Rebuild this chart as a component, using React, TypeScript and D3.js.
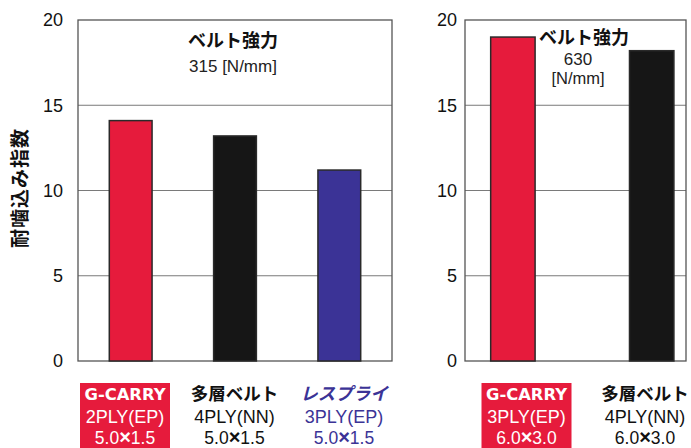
import React from "react";
import * as d3 from "d3";

// ---- data ----
const leftCategories = ["G-CARRY", "多層ベルト", "レスプライ"];
const leftValues = [14.1, 13.2, 11.2];
const leftSpec1 = ["2PLY(EP)", "4PLY(NN)", "3PLY(EP)"];
const leftSpec2 = ["5.0×1.5", "5.0×1.5", "5.0×1.5"];

const rightCategories = ["G-CARRY", "多層ベルト"];
const rightValues = [19.0, 18.2];
const rightSpec1 = ["3PLY(EP)", "4PLY(NN)"];
const rightSpec2 = ["6.0×3.0", "6.0×3.0"];

const yTicks = [0, 5, 10, 15, 20];
const yTitle = "耐噛込み指数";
const leftTitle = ["ベルト強力", "315 [N/mm]"];
const rightTitle = ["ベルト強力", "630", "[N/mm]"];

// ---- style ----
const RED = "#e61b3c";
const BLACK = "#161616";
const BLUE = "#3b3396";
const catColor: Record<string, string> = {
  "G-CARRY": RED,
  "多層ベルト": BLACK,
  "レスプライ": BLUE,
};
const NUM_FONT = "'Liberation Sans', Arial, sans-serif";
const JP_FONT = "'Noto Sans CJK JP', sans-serif";

const y = d3.scaleLinear().domain([0, 20]).range([361, 20]);

function Dim(props: { s: string; x: number; y: number; fill: string }) {
  const parts = props.s.split("×");
  return (
    <text x={props.x} y={props.y} textAnchor="middle" fontFamily={NUM_FONT} fontSize={17.5} fill={props.fill}>
      {parts[0]}
      <tspan fontWeight="bold" fontSize={20}>×</tspan>
      {parts[1]}
    </text>
  );
}

function Panel(props: {
  x0: number;
  x1: number;
  cats: string[];
  vals: number[];
  spec1: string[];
  spec2: string[];
  pi: number;
  po: number;
  align: number;
  labelRange: [number, number];
  tickRight: number;
}) {
  const { x0, x1, cats, vals, spec1, spec2, pi, po, align, labelRange, tickRight } = props;
  const x = d3.scaleBand<string>().domain(cats).range([x0, x1]).paddingInner(pi).paddingOuter(po).align(align);
  const lx = d3.scalePoint<string>().domain(cats).range(labelRange);
  return (
    <g>
      <rect x={x0} y={y(20)} width={x1 - x0} height={y(0) - y(20)} fill="#fff" />
      {yTicks
        .filter((t) => t > 0 && t < 20)
        .map((t) => (
          <line key={t} x1={x0} x2={x1} y1={y(t)} y2={y(t)} stroke="#7a7a7a" strokeWidth={1} />
        ))}
      <rect x={x0} y={y(20)} width={x1 - x0} height={y(0) - y(20)} fill="none" stroke="#555" strokeWidth={1.3} />
      {yTicks.map((t) => (
        <text
          key={t}
          x={tickRight}
          y={y(t)}
          dy="0.36em"
          textAnchor="end"
          fontFamily={NUM_FONT}
          fontSize={18}
          fill="#111"
        >
          {t}
        </text>
      ))}
      {cats.map((c, i) => (
        <rect
          key={c}
          x={x(c)}
          y={y(vals[i])}
          width={x.bandwidth()}
          height={y(0) - y(vals[i])}
          fill={catColor[c]}
          stroke="#2a2a2a"
          strokeWidth={1.5}
        />
      ))}
      {cats.map((c, i) => {
        const cx = lx(c) as number;
        const isG = c === "G-CARRY";
        const col = isG ? "#fff" : catColor[c] === BLUE ? BLUE : "#111";
        return (
          <g key={"l" + c}>
            {isG && <rect x={cx - 45} y={383} width={90} height={70} fill={RED} />}
            {isG ? (
              <text
                x={cx}
                y={400}
                textAnchor="middle"
                fontFamily="'DejaVu Sans', sans-serif"
                fontWeight="bold"
                fontSize={16}
                textLength={81}
                lengthAdjust="spacingAndGlyphs"
                fill="#fff"
              >
                {c}
              </text>
            ) : (
              <text
                x={cx}
                y={400}
                textAnchor="middle"
                fontFamily={JP_FONT}
                fontWeight="bold"
                fontSize={17.5}
                fill={col}
                fontStyle={catColor[c] === BLUE ? "italic" : undefined}
              >
                {c}
              </text>
            )}
            <text x={cx} y={423} textAnchor="middle" fontFamily={NUM_FONT} fontSize={18} fill={col}>
              {spec1[i]}
            </text>
            <Dim s={spec2[i]} x={cx} y={444} fill={col} />
          </g>
        );
      })}
    </g>
  );
}

export default function App() {
  return (
    <svg width={691} height={448} style={{ display: "block", position: "absolute", left: 0, top: 0 }}>
      <rect width={691} height={448} fill="#fff" />
      <Panel
        x0={78}
        x1={392}
        cats={leftCategories}
        vals={leftValues}
        spec1={leftSpec1}
        spec2={leftSpec2}
        pi={0.59}
        po={0.3}
        align={0.5}
        labelRange={[125, 344]}
        tickRight={63}
      />
      <Panel
        x0={465}
        x1={686}
        cats={rightCategories}
        vals={rightValues}
        spec1={rightSpec1}
        spec2={rightSpec2}
        pi={0.68}
        po={0.136}
        align={0.68}
        labelRange={[526.5, 645]}
        tickRight={457}
      />
      <text
        transform="translate(27,188) rotate(-90)"
        textAnchor="middle"
        fontFamily={JP_FONT}
        fontWeight="bold"
        fontSize={19}
        letterSpacing={1}
        fill="#111"
      >
        {yTitle}
      </text>
      <text x={233} y={47} textAnchor="middle" fontFamily={JP_FONT} fontWeight="bold" fontSize={18} fill="#111">
        {leftTitle[0]}
      </text>
      <text x={233} y={72} textAnchor="middle" fontFamily={NUM_FONT} fontSize={17} fill="#222">
        {leftTitle[1]}
      </text>
      <text x={584} y={43.5} textAnchor="middle" fontFamily={JP_FONT} fontWeight="bold" fontSize={18} fill="#111">
        {rightTitle[0]}
      </text>
      <text x={578} y={64.5} textAnchor="middle" fontFamily={NUM_FONT} fontSize={17} fill="#222">
        {rightTitle[1]}
      </text>
      <text x={578} y={84} textAnchor="middle" fontFamily={NUM_FONT} fontSize={16.5} fill="#222">
        {rightTitle[2]}
      </text>
    </svg>
  );
}
